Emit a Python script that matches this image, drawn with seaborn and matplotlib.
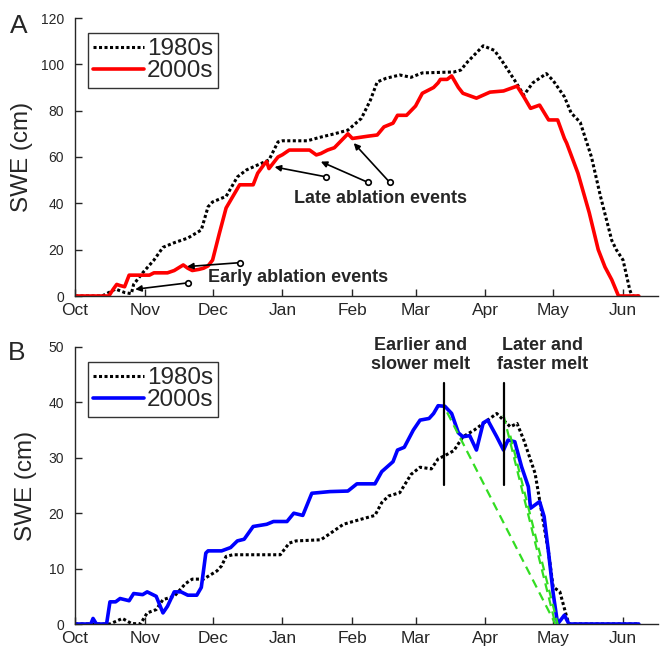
import seaborn as sns
import matplotlib.pyplot as plt

# days since Oct 1 and SWE (cm)
month_days = [0, 31, 61, 92, 123, 151, 182, 212, 243]
month_labels = ["Oct", "Nov", "Dec", "Jan", "Feb", "Mar", "Apr", "May", "Jun"]

# Panel A
a80_days = [0, 12, 15, 18, 22, 25, 26, 30, 35, 39, 44, 50, 56, 59, 61, 67, 72, 76, 82, 86,
            90, 92, 103, 109, 115, 121, 127, 131, 134, 138, 144, 149, 154, 168, 171, 174, 181,
            186, 190, 195, 199, 203, 209, 212, 217, 220, 224, 229, 233, 238, 240, 243, 246, 247, 250]
a80_swe = [0, 0, 1.5, 3, 1.5, 1, 5, 10, 15.5, 21, 23, 25, 28.5, 38.5, 40.6, 43, 51.4, 54.4, 57, 58.7,
           66.5, 67, 67, 68.6, 70, 71.6, 76.7, 84.6, 92.4, 94, 95.4, 94.4, 96.3, 96.7, 97.5, 101, 108,
           106, 100.5, 93, 86.7, 92, 96, 93, 86, 79, 75, 60, 43, 24, 20, 15.5, 2.6, 0, 0]

a00_days = [0, 15, 17, 18.5, 20, 22, 24, 33, 35, 41, 44, 48, 50, 52, 55, 57, 59, 61, 64, 67,
            70, 73, 79, 81, 84, 85, 86, 90, 92, 95, 104, 107, 109, 112, 115, 118, 121, 123, 130, 134,
            137, 141, 143, 147, 151, 154, 159, 161, 162, 165, 167, 170, 172, 178, 184, 190, 196, 199, 202, 206,
            210, 214, 217, 218, 223, 228, 232, 235, 238, 241, 250]
a00_swe = [0, 0, 3, 5, 4.5, 4, 9, 9, 10, 10, 11, 13.4, 12, 11, 11.5, 12, 13, 15.5, 27, 38,
           43, 48, 48, 53, 57, 58, 55, 60, 61, 63, 63, 60.9, 61.5, 63, 64, 67, 70, 68, 69, 69.5,
           73, 74.6, 78, 78, 82, 87.5, 90, 92, 93.5, 93.5, 95, 90, 87.5, 85.4, 88, 88.5, 90.6, 86, 81, 82.4,
           76, 76, 68, 66, 53, 36, 20, 12.5, 7, 0, 0]

# Panel B
b80_days = [0, 15.5, 21, 25, 29, 32, 36, 39, 44, 49, 52, 57, 63, 65, 67, 70, 79, 91, 95, 98,
            109, 113, 119, 125, 133, 136, 139, 144, 149, 153, 158, 161, 164, 168, 172, 177, 183, 187, 190, 193,
            196, 199, 202, 204, 207, 210, 212, 215, 218, 219, 250]
b80_swe = [0, 0, 1, 0.1, 0, 2, 2.6, 4.4, 5, 7.3, 8.1, 8.1, 9.6, 10.5, 12.2, 12.5, 12.5, 12.5, 14.6, 15,
           15.2, 16.3, 18, 18.7, 19.6, 21.9, 23.1, 23.7, 27, 28.3, 28, 29.8, 30.4, 31.3, 33.8, 35, 36.8, 38, 36.8, 35.6,
           36.2, 33.2, 29.6, 27.2, 20, 12.8, 6.7, 5.8, 1.3, 0, 0]

b00_days = [0, 7, 8, 9.5, 14, 15.5, 18, 20, 24, 26, 30, 32, 35, 36, 39, 41, 44, 47, 50, 54,
            56, 58, 59, 65, 69, 72, 75, 79, 85, 88, 94, 97, 101, 105, 113, 121, 125, 133, 136, 141,
            143, 146, 150, 153, 157, 159, 161, 164, 167, 170, 172, 175, 178, 181, 183, 187, 190, 192, 195, 198,
            201, 202, 206, 208, 210, 212, 214, 217, 219, 250]
b00_swe = [0, 0, 1, 0, 0, 4, 4, 4.6, 4.2, 5.5, 5.3, 5.8, 5.2, 5, 2, 3.2, 5.8, 5.8, 5.2, 5.2,
           6.6, 12.8, 13.2, 13.2, 13.8, 15, 15.3, 17.6, 18, 18.5, 18.5, 20, 19.6, 23.6, 23.9, 24, 25.3, 25.3, 27.5, 29.3,
           31.4, 31.9, 35, 36.8, 37.1, 38, 39.4, 39.3, 38, 34.5, 33.8, 34, 31.4, 36.3, 36.8, 33.8, 31.4, 33.2, 32.9, 28.4,
           24.8, 20.9, 22.1, 19.4, 12.8, 5.6, 0, 1.6, 0, 0]

# melt-rate guides in panel B (start day, start SWE, end day)
melt_guides = [(165, 38.2, 213), (190, 37.7, 213), (193, 34.0, 214)]
melt_marks = [163.5, 190]

sns.set_style("ticks")
plt.rcParams["font.family"] = ["Liberation Sans", "DejaVu Sans"]

fig = plt.figure(figsize=(6.6, 6.48), dpi=100)
axA = fig.add_axes([75 / 660, 1 - 296 / 648, 583 / 660, 278 / 648])
axB = fig.add_axes([75 / 660, 1 - 624 / 648, 583 / 660, 277 / 648])

dot = (0, (1, 0.8))

sns.lineplot(x=a80_days, y=a80_swe, ax=axA, color="black", lw=2.2, linestyle=dot,
             estimator=None, sort=False, label="1980s")
sns.lineplot(x=a00_days, y=a00_swe, ax=axA, color="#ff0000", lw=2.6,
             estimator=None, sort=False, label="2000s")

sns.lineplot(x=b80_days, y=b80_swe, ax=axB, color="black", lw=2.2, linestyle=dot,
             estimator=None, sort=False, label="1980s")
sns.lineplot(x=b00_days, y=b00_swe, ax=axB, color="#0000ff", lw=2.6,
             estimator=None, sort=False, label="2000s")

for x0, y0, x1 in melt_guides:
    axB.plot([x0, x1], [y0, 0], color="#33dd22", lw=1.6, ls=(0, (4, 2.5)), zorder=4)
for xm in melt_marks:
    axB.plot([xm, xm], [25.1, 43.5], color="black", lw=1.6, zorder=5)

for ax, top, step in [(axA, 120, 20), (axB, 50, 10)]:
    ax.set_xlim(0, 258.5)
    ax.set_ylim(0, top)
    ax.set_xticks(month_days)
    ax.set_xticklabels(month_labels)
    ax.set_yticks(range(0, top + 1, step))
    ax.tick_params(axis="x", direction="in", length=5, width=1, labelsize=12.5, pad=5)
    ax.tick_params(axis="y", direction="in", length=5, width=1, labelsize=10, pad=8)
    ax.set_xlabel("")
    ax.set_ylabel("SWE (cm)", fontsize=17.5)
    sns.despine(ax=ax)
    for s in ["left", "bottom"]:
        ax.spines[s].set_linewidth(1)
    leg = ax.legend(loc="upper left", bbox_to_anchor=(0.022, 0.946), borderaxespad=0,
                    fontsize=17.5, fancybox=False, handlelength=2.1, handletextpad=0.1,
                    labelspacing=0.0, borderpad=0.22, framealpha=1)
    leg.get_frame().set_edgecolor("#333333")
    leg.get_frame().set_linewidth(1)

axA.yaxis.set_label_coords(-0.072, 0.5)
axB.yaxis.set_label_coords(-0.065, 0.5)

# annotations, panel A
arrow = dict(arrowstyle="-|>", color="black", lw=1.2, mutation_scale=9, shrinkA=0, shrinkB=0)
early = [((73.3, 14.4), (49.7, 12.7)), ((50.3, 5.7), (26.7, 2.9))]
late = [((111.5, 51.4), (88.5, 55.7)), ((130.0, 49.0), (109.0, 58.0)), ((139.6, 49.0), (123.6, 66.0))]
for tail, tip in early + late:
    axA.annotate("", xy=tip, xytext=tail, arrowprops=arrow)
    axA.plot(*tail, "o", mfc="white", mec="black", ms=4, mew=1.2, zorder=6)

axA.text(59, 7.8, "Early ablation events", fontsize=13, fontweight="bold", va="center", ha="left")
axA.text(97, 42.3, "Late ablation events", fontsize=13, fontweight="bold", va="center", ha="left")

axB.text(153, 48.6, "Earlier and\nslower melt", fontsize=13, fontweight="bold",
         ha="center", va="center", linespacing=1.15, clip_on=False)
axB.text(207.5, 48.6, "Later and\nfaster melt", fontsize=13, fontweight="bold",
         ha="center", va="center", linespacing=1.15, clip_on=False)

fig.text(10 / 660, 1 - 33 / 648, "A", fontsize=19, va="baseline", ha="left")
fig.text(8 / 660, 1 - 360 / 648, "B", fontsize=19, va="baseline", ha="left")

fig.savefig("out.png", dpi=100)
